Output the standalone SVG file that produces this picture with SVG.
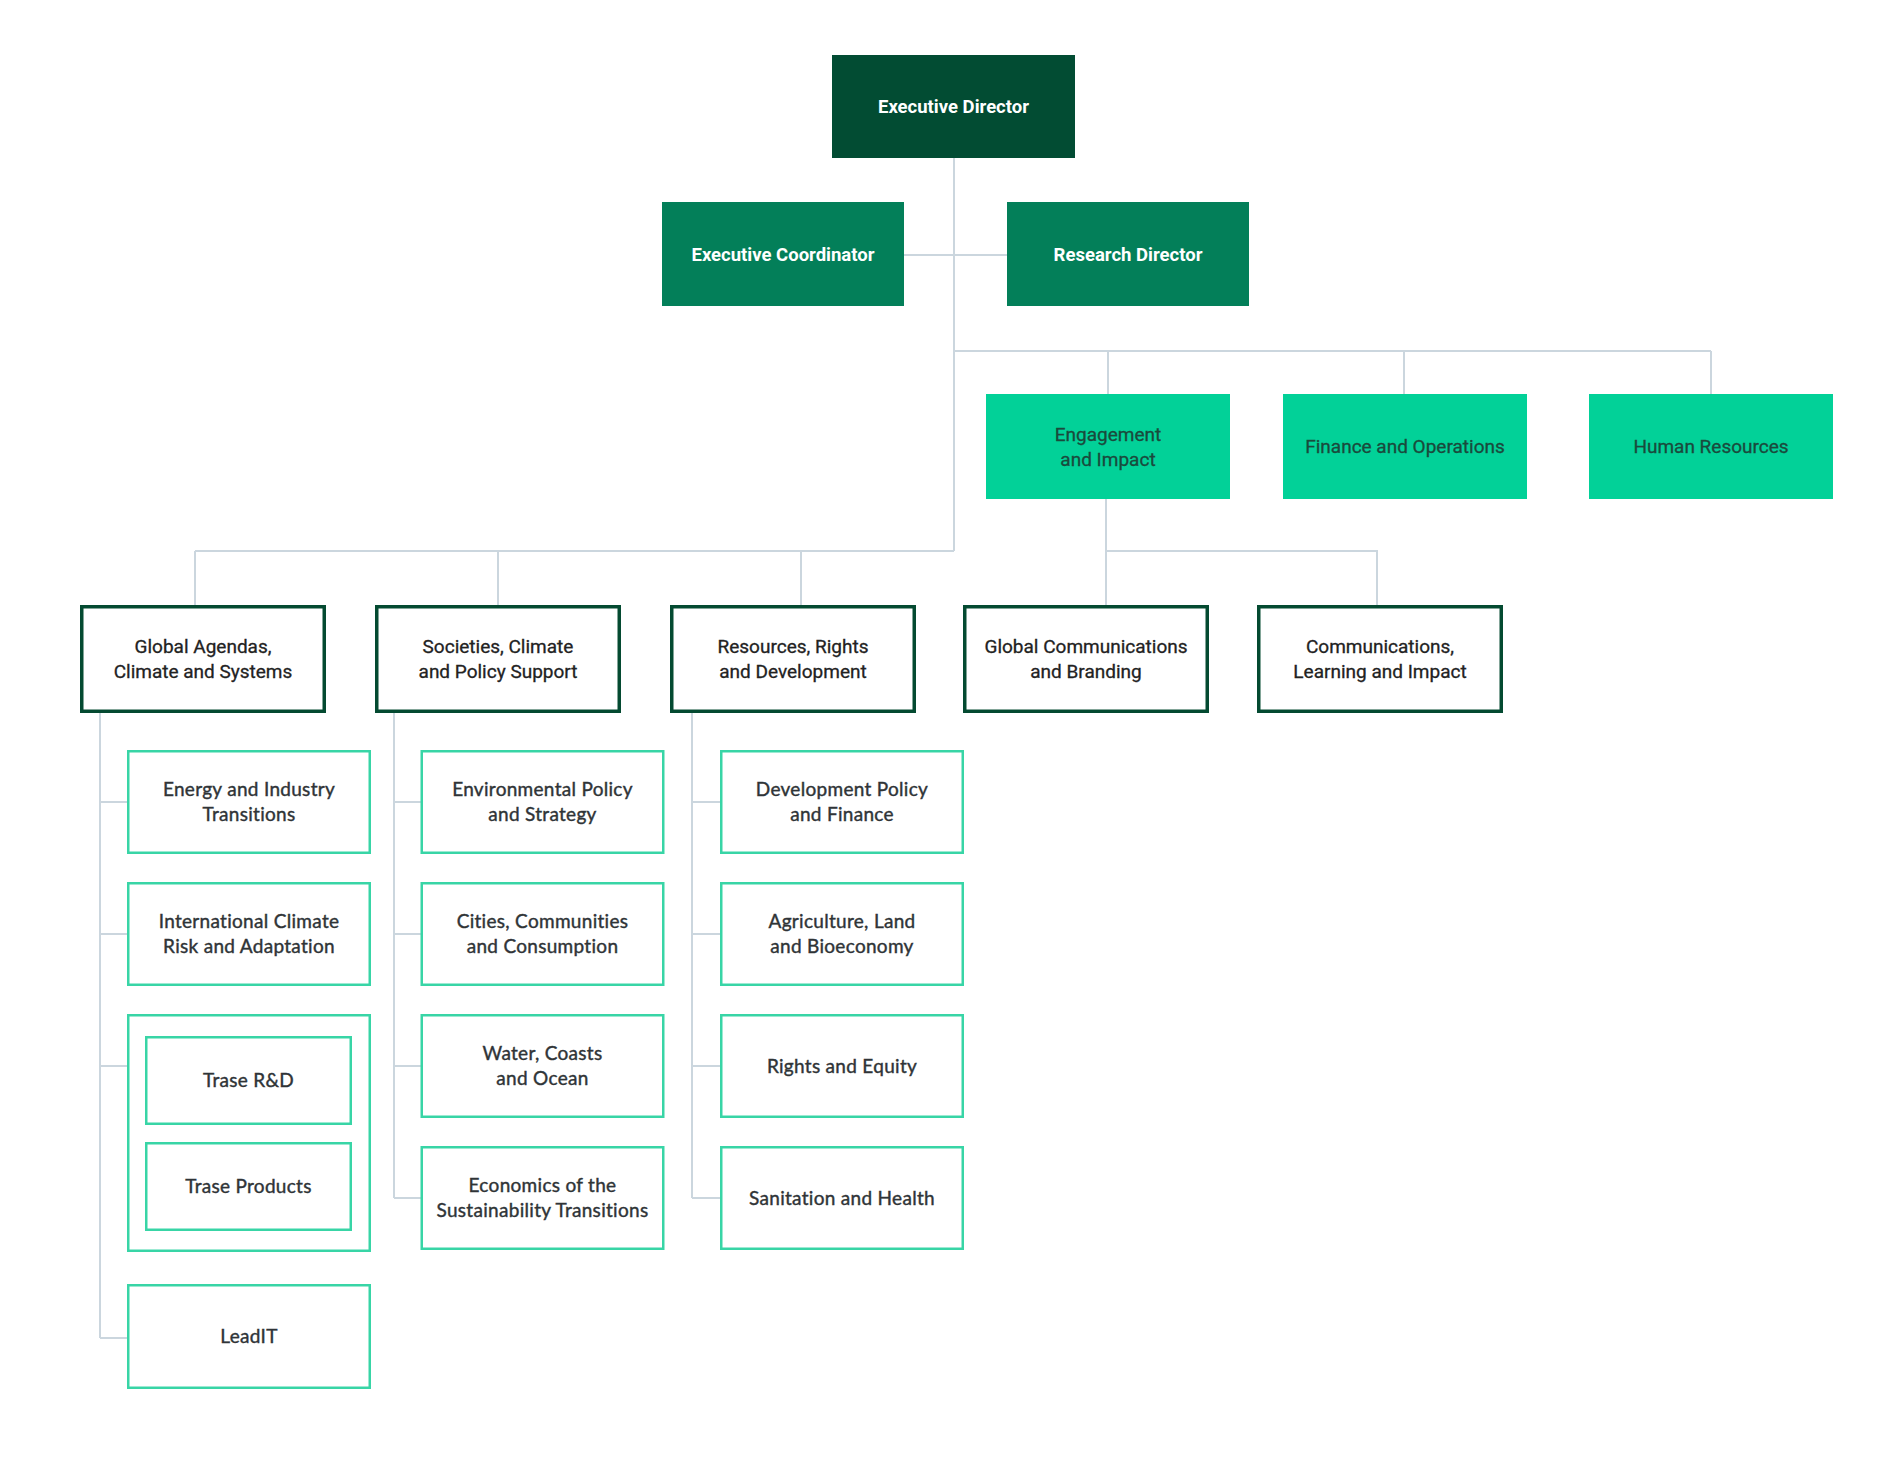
<svg xmlns="http://www.w3.org/2000/svg" width="1900" height="1459" viewBox="0 0 1900 1459">
<style>
.bg{fill:#ffffff}
.conn{stroke:#cbd6de;stroke-width:2;fill:none}
.dark{fill:#024c33}
.mid{fill:#037f59}
.mint{fill:#02d198}
.l3{fill:#ffffff;stroke:#044a31;stroke-width:3.5}
.sub{fill:#ffffff;stroke:#38d5a6;stroke-width:2.5}
.tw{font-family:Roboto,"Liberation Sans",sans-serif;font-size:18.5px;font-weight:700;fill:#ffffff;text-anchor:middle}
.tm{font-family:Roboto,"Liberation Sans",sans-serif;font-size:19px;fill:#1a4a3c;stroke:#1a4a3c;stroke-width:0.3px;text-anchor:middle}
.t3{font-family:Roboto,"Liberation Sans",sans-serif;font-size:19px;fill:#222222;stroke:#222222;stroke-width:0.3px;text-anchor:middle}
.ts{font-family:Lato,"Liberation Sans",sans-serif;font-size:19px;fill:#2f3437;stroke:#2f3437;stroke-width:0.4px;text-anchor:middle;letter-spacing:0.3px}
</style>
<rect class="bg" x="0" y="0" width="1900" height="1459"/>
<g id="connectors">
<path class="conn" d="M954,158 V551"/>
<path class="conn" d="M904,255 H1007"/>
<path class="conn" d="M954,351 H1711 M1108,351 V394 M1404,351 V394 M1711,351 V394"/>
<path class="conn" d="M195,551 H954 M195,551 V605 M498,551 V605 M801,551 V605"/>
<path class="conn" d="M1106,499 V605 M1106,551 H1377 V605"/>
<path class="conn" d="M100,713 V1338 M100,802 H127 M100,934 H127 M100,1066 H127 M100,1338 H127"/>
<path class="conn" d="M394,713 V1198 M394,802 H421 M394,934 H421 M394,1066 H421 M394,1198 H421"/>
<path class="conn" d="M692,713 V1198 M692,802 H720 M692,934 H720 M692,1066 H720 M692,1198 H720"/>
</g>
<g id="executive-director"><rect class="dark" x="832" y="55" width="243" height="103"/><text class="tw" x="953.5" y="112.5">Executive Director</text></g>
<g id="executive-coordinator"><rect class="mid" x="662" y="202" width="242" height="104"/><text class="tw" x="783" y="260.5">Executive Coordinator</text></g>
<g id="research-director"><rect class="mid" x="1007" y="202" width="242" height="104"/><text class="tw" x="1128" y="260.5">Research Director</text></g>
<g id="engagement-impact"><rect class="mint" x="986" y="394" width="244" height="105"/><text class="tm" x="1108" y="440.5">Engagement</text><text class="tm" x="1108" y="466">and Impact</text></g>
<g id="finance-operations"><rect class="mint" x="1283" y="394" width="244" height="105"/><text class="tm" x="1405" y="453">Finance and Operations</text></g>
<g id="human-resources"><rect class="mint" x="1589" y="394" width="244" height="105"/><text class="tm" x="1711" y="453">Human Resources</text></g>
<g id="global-agendas"><rect class="l3" x="81.75" y="606.75" width="242.5" height="104.5"/><text class="t3" x="203" y="652.5">Global Agendas,</text><text class="t3" x="203" y="678">Climate and Systems</text></g>
<g id="societies-climate"><rect class="l3" x="376.75" y="606.75" width="242.5" height="104.5"/><text class="t3" x="498" y="652.5">Societies, Climate</text><text class="t3" x="498" y="678">and Policy Support</text></g>
<g id="resources-rights"><rect class="l3" x="671.75" y="606.75" width="242.5" height="104.5"/><text class="t3" x="793" y="652.5">Resources, Rights</text><text class="t3" x="793" y="678">and Development</text></g>
<g id="global-communications"><rect class="l3" x="964.75" y="606.75" width="242.5" height="104.5"/><text class="t3" x="1086" y="652.5">Global Communications</text><text class="t3" x="1086" y="678">and Branding</text></g>
<g id="communications-learning"><rect class="l3" x="1258.75" y="606.75" width="242.5" height="104.5"/><text class="t3" x="1380" y="652.5">Communications,</text><text class="t3" x="1380" y="678">Learning and Impact</text></g>
<g id="energy-industry"><rect class="sub" x="128.25" y="751.25" width="241.5" height="101.5"/><text class="ts" x="249" y="795.5">Energy and Industry</text><text class="ts" x="249" y="821">Transitions</text></g>
<g id="intl-climate-risk"><rect class="sub" x="128.25" y="883.25" width="241.5" height="101.5"/><text class="ts" x="249" y="927.5">International Climate</text><text class="ts" x="249" y="953">Risk and Adaptation</text></g>
<g id="trase"><rect class="sub" x="128.25" y="1015.25" width="241.5" height="235.5"/>
<g id="trase-rd"><rect class="sub" x="146.25" y="1037.25" width="204.5" height="86.5"/><text class="ts" x="248.5" y="1087">Trase R&amp;D</text></g>
<g id="trase-products"><rect class="sub" x="146.25" y="1143.25" width="204.5" height="86.5"/><text class="ts" x="248.5" y="1193">Trase Products</text></g>
</g>
<g id="leadit"><rect class="sub" x="128.25" y="1285.25" width="241.5" height="102.5"/><text class="ts" x="249" y="1343">LeadIT</text></g>
<g id="environmental-policy"><rect class="sub" x="421.75" y="751.25" width="241.5" height="101.5"/><text class="ts" x="542.5" y="795.5">Environmental Policy</text><text class="ts" x="542.5" y="821">and Strategy</text></g>
<g id="cities-communities"><rect class="sub" x="421.75" y="883.25" width="241.5" height="101.5"/><text class="ts" x="542.5" y="927.5">Cities, Communities</text><text class="ts" x="542.5" y="953">and Consumption</text></g>
<g id="water-coasts"><rect class="sub" x="421.75" y="1015.25" width="241.5" height="101.5"/><text class="ts" x="542.5" y="1059.5">Water, Coasts</text><text class="ts" x="542.5" y="1085">and Ocean</text></g>
<g id="economics-transitions"><rect class="sub" x="421.75" y="1147.25" width="241.5" height="101.5"/><text class="ts" x="542.5" y="1191.5">Economics of the</text><text class="ts" x="542.5" y="1217">Sustainability Transitions</text></g>
<g id="development-policy"><rect class="sub" x="721.25" y="751.25" width="241.5" height="101.5"/><text class="ts" x="842" y="795.5">Development Policy</text><text class="ts" x="842" y="821">and Finance</text></g>
<g id="agriculture-land"><rect class="sub" x="721.25" y="883.25" width="241.5" height="101.5"/><text class="ts" x="842" y="927.5">Agriculture, Land</text><text class="ts" x="842" y="953">and Bioeconomy</text></g>
<g id="rights-equity"><rect class="sub" x="721.25" y="1015.25" width="241.5" height="101.5"/><text class="ts" x="842" y="1072.5">Rights and Equity</text></g>
<g id="sanitation-health"><rect class="sub" x="721.25" y="1147.25" width="241.5" height="101.5"/><text class="ts" x="842" y="1204.5">Sanitation and Health</text></g>
</svg>
